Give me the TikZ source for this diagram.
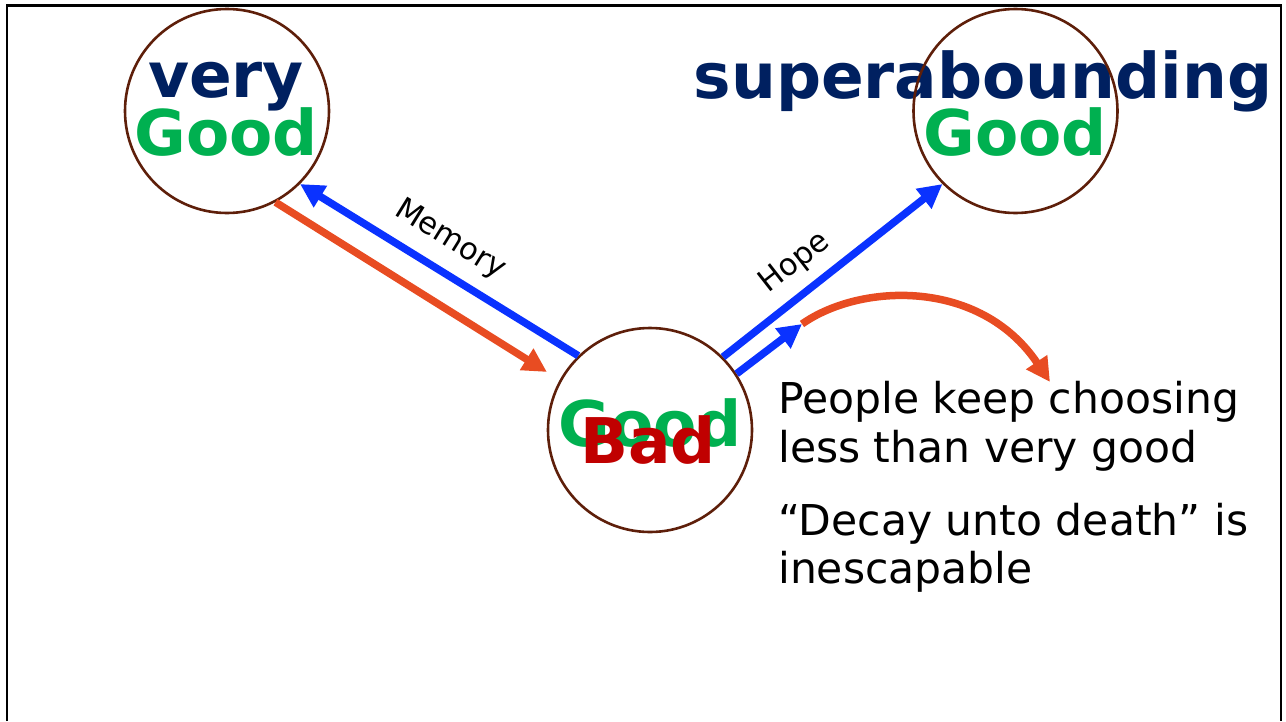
\documentclass[tikz,border=0pt]{standalone}
\usepackage{fontspec}
\setmainfont{DejaVu Sans}
\usetikzlibrary{arrows.meta}
\definecolor{navyc}{HTML}{002060}
\definecolor{greenc}{HTML}{00B050}
\definecolor{redc}{HTML}{C00000}
\definecolor{bluec}{HTML}{0A32FF}
\definecolor{orangec}{HTML}{E84C22}
\definecolor{brownc}{HTML}{5E1F0A}
\begin{document}
\begin{tikzpicture}[x=1pt,y=-1pt,
  circ/.style={circle,draw=brownc,line width=2.6pt,minimum size=204pt,inner sep=0pt},
  bigword/.style={font=\fontsize{63}{63}\selectfont\bfseries,inner sep=0pt,anchor=base},
  body/.style={font=\fontsize{42.5}{49}\selectfont,inner sep=0pt,anchor=base west},
  lbl/.style={font=\fontsize{30.5}{30.5}\selectfont,inner sep=0pt},
  conn/.style={line width=7.5pt,-{Triangle[length=24pt,width=24pt]}}
]
\useasboundingbox (0,0) rectangle (1286,721);
\draw[line width=2.2pt] (7,721) -- (7,5.5) -- (1281,5.5) -- (1281,721);

% texts
\node[bigword,text=navyc] (tvery) at (226,97) {very};
\node[bigword,text=greenc] (tgood1) at (226,155) {Good};
\node[bigword,text=navyc] (tsuper) at (983,98) {superabounding};
\node[bigword,text=greenc] (tgood2) at (1015,155) {Good};
\node[bigword,text=greenc] (tgood3) at (650,446) {Good};
\node[bigword,text=redc] (tbad) at (648,463) {Bad};

% circles
\node[circ] (vgood) at (227,111) {};
\node[circ] (sgood) at (1015.5,111) {};
\node[circ] (bad) at (650,430) {};

% connectors
\draw[conn,draw=bluec] (bad.134.6) -- (vgood.-45.4);
\draw[conn,draw=orangec,shorten >=15pt] (vgood.-62.5) -- (bad.151);
\draw[conn,draw=bluec] (bad.45.4) -- (sgood.225.2);
\coordinate (cstart) at (802,324);
\coordinate (cend) at (1050,382);
\draw[conn,draw=bluec] (bad.33) -- (cstart);
\draw[conn,draw=orangec] (cstart) .. controls (860,283) and (980,278) .. (cend);

% labels
\node[lbl,rotate=-31.8] (lmem) at (450,240) {Memory};
\node[lbl,rotate=38] (lhope) at (795,263) {Hope};

% body text
\node[body] (t1) at (778,413) {People keep choosing};
\node[body] (t2) at (778,462) {less than very good};
\node[body] (t3) at (778,535) {“Decay unto death” is};
\node[body] (t4) at (778,583) {inescapable};
\end{tikzpicture}
\end{document}
